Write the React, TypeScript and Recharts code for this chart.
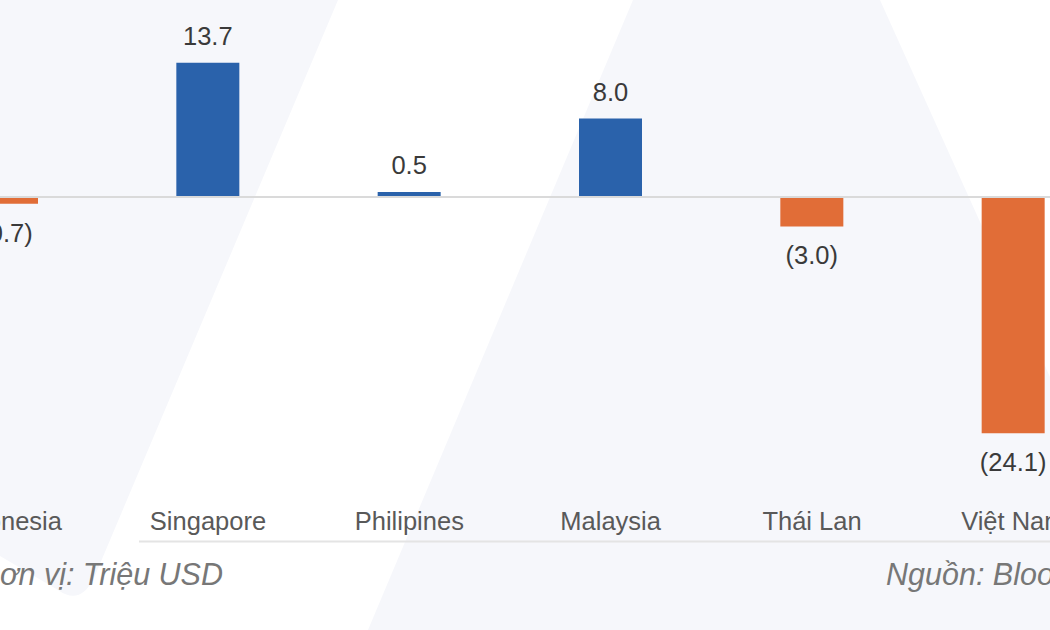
import { BarChart, Bar, XAxis, YAxis, Cell, LabelList, ReferenceLine } from 'recharts';

const countries = ['Indonesia', 'Singapore', 'Philipines', 'Malaysia', 'Thái Lan', 'Việt Nam'];
const netFlows = [-0.7, 13.7, 0.5, 8.0, -3.0, -24.1];
const unitNote = 'Đơn vị: Triệu USD';
const sourceNote = 'Nguồn: Bloomberg';

const data = countries.map((name, i) => ({ name, value: netFlows[i] }));

const BLUE = '#2a62ab';
const ORANGE = '#e16d37';
const SHADE = '#f6f7fb';
const FONT = '"Liberation Sans", Arial, sans-serif';

const fmt = (v: number) => (v < 0 ? `(${Math.abs(v).toFixed(1)})` : v.toFixed(1));

function ValueLabel(props: any) {
  const { x, y, width, height, value } = props;
  const top = Math.min(y, y + height);
  const bottom = Math.max(y, y + height);
  const ty = value < 0 ? bottom + 38 : top - 18;
  return (
    <text x={x + width / 2} y={ty} textAnchor="middle" fontSize={25.5} fill="#3a3a3a" fontFamily={FONT}>
      {fmt(value)}
    </text>
  );
}

function CountryTick(props: any) {
  const { x, y, payload } = props;
  return (
    <text x={x} y={y} dy={31} textAnchor="middle" fontSize={25.5} fill="#595959" fontFamily={FONT}>
      {payload.value}
    </text>
  );
}

export default function App() {
  return (
    <div style={{ position: 'absolute', left: 0, top: 0, width: 1050, height: 630, overflow: 'hidden', background: '#fff', fontFamily: FONT }}>
      {/* faint logo watermark behind the chart */}
      <svg width={1050} height={630} style={{ position: 'absolute', left: 0, top: 0 }}>
        <path d="M0,0 L338,0 L94,578 Q80,606 58,590 L0,556 Z" fill={SHADE} />
        <path d="M633,0 L880,0 L1164,630 L368,630 Z" fill={SHADE} />
      </svg>

      <div style={{ position: 'absolute', left: -94, top: 0 }}>
        <BarChart width={1208} height={561} data={data} margin={{ top: 1, right: 0, bottom: 0, left: 0 }}>
          <XAxis dataKey="name" axisLine={false} tickLine={false} interval={0} height={70} tick={<CountryTick />} />
          <YAxis hide domain={[-30, 20]} />
          <ReferenceLine y={0} stroke="#dadada" strokeWidth={2} />
          <Bar dataKey="value" barSize={63} isAnimationActive={false}>
            {data.map((d, i) => (
              <Cell key={i} fill={d.value < 0 ? ORANGE : BLUE} />
            ))}
            <LabelList dataKey="value" content={<ValueLabel />} />
          </Bar>
        </BarChart>
      </div>

      <svg width={1050} height={630} style={{ position: 'absolute', left: 0, top: 0 }}>
        <line x1={139} x2={1050} y1={541.5} y2={541.5} stroke="#e4e4e4" strokeWidth={2} />
        <text x={-22} y={585} fontSize={30.5} fontStyle="italic" fill="#777" fontFamily={FONT}>{unitNote}</text>
        <text x={886} y={585} fontSize={30.5} fontStyle="italic" fill="#777" fontFamily={FONT}>{sourceNote}</text>
      </svg>
    </div>
  );
}
